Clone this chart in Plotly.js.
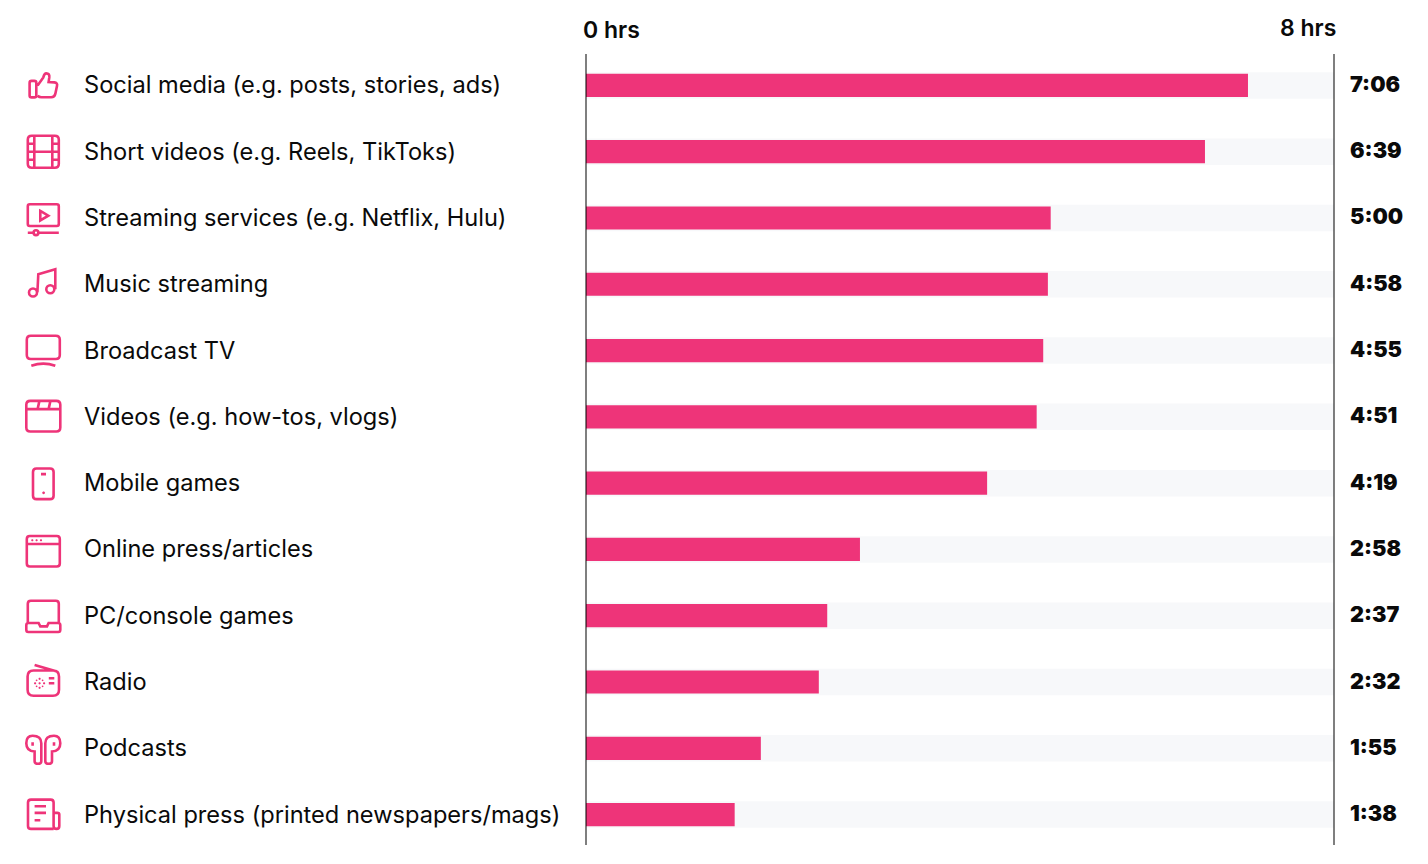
<!DOCTYPE html>
<html><head><meta charset="utf-8">
<script src="https://cdn.plot.ly/plotly-3.0.1.min.js"></script>
<style>html,body{margin:0;padding:0;background:#fff}#c{width:1428px;height:864px}</style>
</head><body><div id="c"></div>
<script>
var categories = ["Social media (e.g. posts, stories, ads)","Short videos (e.g. Reels, TikToks)","Streaming services (e.g. Netflix, Hulu)","Music streaming","Broadcast TV","Videos (e.g. how-tos, vlogs)","Mobile games","Online press/articles","PC/console games","Radio","Podcasts","Physical press (printed newspapers/mags)"];
var hours = [7.08,6.62,4.97,4.94,4.89,4.82,4.29,2.93,2.58,2.49,1.87,1.59];
var timeLabels = ["7:06","6:39","5:00","4:58","4:55","4:51","4:19","2:58","2:37","2:32","1:55","1:38"];
var maxHours = 8;
var axisLabels = ["0 hrs","8 hrs"];

var PINK="#ee3479", TRACK="#f7f8fa", FONT="Inter, sans-serif";
function circ(x,y,r){var k=r*0.5523;return `M${x-r},${y} C${x-r},${y-k} ${x-k},${y-r} ${x},${y-r} C${x+k},${y-r} ${x+r},${y-k} ${x+r},${y} C${x+r},${y+k} ${x+k},${y+r} ${x},${y+r} C${x-k},${y+r} ${x-r},${y+k} ${x-r},${y} Z `;}
function rr(x0,y0,x1,y1,r){return `M${x0+r},${y0} L${x1-r},${y0} Q${x1},${y0} ${x1},${y0+r} L${x1},${y1-r} Q${x1},${y1} ${x1-r},${y1} L${x0+r},${y1} Q${x0},${y1} ${x0},${y1-r} L${x0},${y0+r} Q${x0},${y0} ${x0+r},${y0} Z `;}
function bud(s){return `M${s*17},-5 Q${s*17},-12.5 ${s*10.7},-12.5 Q${s*2},-12.5 ${s*2},-5 L${s*2},13 Q${s*2},15.5 ${s*5.3},15.5 Q${s*8.7},15.5 ${s*8.7},13 L${s*8.7},3.2 Q${s*17},3 ${s*17},-5 Z M${s*10.7},-6 L${s*10.7},-2.5 `;}
var icons = [
 rr(-13.7,-4.5,-7,12,2)+"M-5.7,0 L0,-8 Q1,-12 3,-12 Q6.5,-12 6,-8 L5.3,-3.3 L11,-3 Q14.5,-2.5 13.7,0.5 L12,8.5 Q11.2,11.8 8,11.8 L-2,11.8 Q-4,11.8 -5.7,10.5",
 rr(-15.5,-16,15.5,16,4)+"M-9,-16 L-9,16 M9,-16 L9,16 M-15.5,-8 L-9,-8 M-15.5,0 L15.5,0 M-15.5,8 L-9,8 M9,-8 L15.5,-8 M9,8 L15.5,8",
 rr(-15.5,-13.7,15.5,8,2)+"M-3,-7 L5,-2.3 L-3,2.5 Z M-15.5,14.7 L-10,14.7 M-5,14.7 L15.5,14.7 "+circ(-7.3,14.7,2.4),
 circ(-10.3,8.3,4)+circ(7,5,4)+"M-5.9,8 L-5,-10 L12,-15 L12,5",
 rr(-16.5,-14.8,16.5,8.5,4)+"M-12,15.2 Q0,11 12,15.2",
 rr(-17,-16,17,14.7,4)+"M-17,-7.7 L17,-7.7 M-4,-15.5 L-5.7,-7.7 M7,-15.5 L5.3,-7.7",
 rr(-10.3,-14.7,10.3,16,3.5)+"M-2.3,-9 L2.7,-9 ",
 rr(-16.5,-13.5,16.5,17,3)+"M-16.5,-5.5 L16.5,-5.5 ",
 "M-15.5,7.3 L-15.5,-12 Q-15.5,-15 -12.5,-15 L12.5,-15 Q15.5,-15 15.5,-12 L15.5,7.3 "+"M-15,7.3 L-4.7,7.3 L-3,10.7 L3.7,10.7 L5.3,7.3 L15,7.3 Q17,7.3 17,9.5 L17,14 Q17,16.3 15,16.3 L-15,16.3 Q-17,16.3 -17,14 L-17,9.5 Q-17,7.3 -15,7.3 Z",
 rr(-15.7,-11.5,15.7,13.7,6)+"M-8.7,-17 L13.7,-10.5 M5.5,-3.7 L11,-3.7 M5.5,1.3 L11,1.3 ",
 bud(-1)+bud(1),
 "M10.3,14.3 L-12.3,14.3 Q-15.3,14.3 -15.3,11.3 L-15.3,-12 Q-15.3,-15 -12.3,-15 L7.3,-15 Q10.3,-15 10.3,-12 L10.3,11.3 Q10.3,14.3 13.2,14.3 Q16,14.3 16,11.3 L16,0 Q16,-1.7 14,-1.7 L10.3,-1.7 M-8.7,-8.3 L2.7,-8.3 M-8.7,-1.7 L2.7,-1.7 M-8.7,5.7 L-3,5.7"
];
var iconDots = {
 6: circ(0.3,9.7,1.4),
 7: circ(-11,-9.2,1.1)+circ(-6.7,-9.2,1.1)+circ(-2.3,-9.2,1.1),
 9: circ(-3.7,1.3,1.1)+circ(-8.2,1.3,1.1)+circ(0.8,1.3,1.1)+circ(-3.7,-3.2,1.1)+circ(-3.7,5.8,1.1)+circ(-6.7,-1.7,0.9)+circ(-0.7,-1.7,0.9)+circ(-6.7,4.3,0.9)+circ(-0.7,4.3,0.9)
};
function flipY(d){return d.replace(/(-?[\d.]+),(-?[\d.]+)/g,function(m,a,b){return a+","+(-parseFloat(b));});}

var L=586,R=1334,PAD=6,T=54,B=845,W=1428,H=864,STEP=66.29,FIRST=85.4;
var PL=L-PAD,PR=R+PAD,PXH=(R-L)/maxHours;
var px=function(p){return (p-PL)/(PR-PL);};
var pyPaper=function(p){return (B-p)/(B-T);};
var yr=[(B-FIRST)/STEP,(T-FIRST)/STEP];
var idx=categories.map(function(_,i){return i;});

var traces=[
 {type:"bar",orientation:"h",y:idx,x:idx.map(function(){return maxHours;}),width:0.4,marker:{color:TRACK,line:{width:0}},hoverinfo:"skip"},
 {type:"bar",orientation:"h",y:idx,x:hours,width:0.35,marker:{color:PINK,line:{width:0}},text:timeLabels,textposition:"none",hovertemplate:"%{text}<extra></extra>"}
];
var ann=[];
categories.forEach(function(c,i){
 ann.push({text:c,xref:"paper",yref:"y",x:px(82),y:i,yshift:0.5,xanchor:"left",yanchor:"middle",showarrow:false,align:"left",font:{family:FONT,size:23.6,color:"#0a0a0a"}});
 ann.push({text:timeLabels[i],xref:"paper",yref:"y",x:px(1348),y:i,yshift:1.5,xanchor:"left",yanchor:"middle",showarrow:false,font:{family:FONT,size:21.6,color:"#0a0a0a",weight:900}});
});
ann.push({text:axisLabels[0],xref:"paper",yref:"paper",x:px(581),y:pyPaper(30),xanchor:"left",yanchor:"middle",showarrow:false,font:{family:FONT,size:23,color:"#0a0a0a",weight:600}});
ann.push({text:axisLabels[1],xref:"paper",yref:"paper",x:px(1338),y:pyPaper(28),xanchor:"right",yanchor:"middle",showarrow:false,font:{family:FONT,size:23,color:"#0a0a0a",weight:600}});

var shapes=[0,maxHours].map(function(v){return {type:"line",xref:"x",yref:"paper",x0:v,x1:v,y0:0,y1:1,layer:"above",line:{color:"rgba(0,0,0,0.5)",width:2}};});
icons.forEach(function(d,i){
 shapes.push({type:"path",xref:"paper",yref:"y",xsizemode:"pixel",ysizemode:"pixel",xanchor:px(43.3),yanchor:i,path:flipY(d),line:{color:PINK,width:2.6},fillcolor:"rgba(0,0,0,0)"});
 if(iconDots[i]) shapes.push({type:"path",xref:"paper",yref:"y",xsizemode:"pixel",ysizemode:"pixel",xanchor:px(43.3),yanchor:i,path:flipY(iconDots[i]),line:{width:0},fillcolor:PINK});
});
Plotly.newPlot("c",traces,{
 width:W,height:H,paper_bgcolor:"#fff",plot_bgcolor:"#fff",showlegend:false,barmode:"overlay",
 margin:{l:PL,r:W-PR,t:T,b:H-B,pad:0},
 xaxis:{range:[-PAD/PXH,maxHours+PAD/PXH],visible:false,fixedrange:true},
 yaxis:{range:yr,visible:false,fixedrange:true},
 annotations:ann,shapes:shapes
},{displayModeBar:false});
</script></body></html>
